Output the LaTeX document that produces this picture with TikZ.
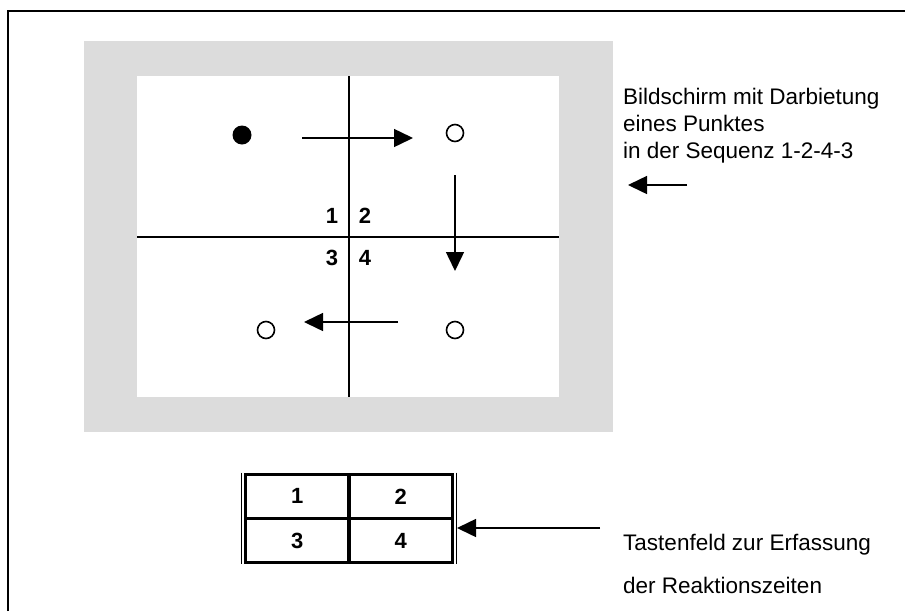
\documentclass[tikz,border=0pt]{standalone}
\usepackage{fontspec}
\setmainfont{Liberation Sans}
\usetikzlibrary{arrows.meta}
\definecolor{screengray}{RGB}{220,220,220}
\tikzset{
  arr/.style={line width=1.5pt,-{Triangle[length=19pt,width=18pt]}},
  fulldot/.style={circle,fill=black,minimum size=19pt,inner sep=0pt},
  opendot/.style={circle,draw=black,line width=1.6pt,minimum size=17pt,inner sep=0pt},
  quad/.style={font=\fontsize{22}{22}\selectfont\bfseries,inner sep=0pt},
  keycell/.style={rectangle,draw=black,line width=3.4pt,minimum width=103.5pt,minimum height=44.2pt,inner sep=0pt,outer sep=0pt,font=\fontsize{22}{22}\selectfont\bfseries},
  label/.style={font=\fontsize{22.5}{27}\selectfont,align=left,inner sep=0pt}
}
\begin{document}
\begin{tikzpicture}[x=1pt,y=-1pt]
\useasboundingbox (0,0) rectangle (905,611);
% outer frame
\draw[line width=2pt] (8,611) -- (8,11) -- (905,11);
% screen
\fill[screengray] (84,41) rectangle (613,432);
\fill[white] (137,76) rectangle (559,397);
\node[inner sep=0pt,minimum width=422pt,minimum height=321pt] (screen) at (348,236.5) {};
\draw[line width=2pt] (349,76) -- (349,397);
\draw[line width=2pt] (137,237) -- (559,237);
\node[quad] (q1) at (332,216) {1};
\node[quad] (q2) at (365,216) {2};
\node[quad] (q3) at (332,258) {3};
\node[quad] (q4) at (365,258) {4};
% dots
\node[fulldot] (d1) at (242,135) {};
\node[opendot] (d2) at (455,133) {};
\node[opendot] (d4) at (455,330) {};
\node[opendot] (d3) at (266,330) {};
% sequence arrows
\coordinate (a1s) at (302,138); \coordinate (a1e) at (413,138);
\coordinate (a2s) at (455,175); \coordinate (a2e) at (455,271);
\coordinate (a3s) at (398,322); \coordinate (a3e) at (304,322);
\draw[arr] (a1s) -- (a1e);
\draw[arr] (a2s) -- (a2e);
\draw[arr] (a3s) -- (a3e);
% screen label
\node[label,anchor=base west] (lab1) at (623,158) {Bildschirm mit Darbietung\\eines Punktes\\in der Sequenz 1-2-4-3};
\coordinate (a4s) at (687,185); \coordinate (a4e) at (628,185);
\draw[arr] (a4s) -- (a4e);
% keypad
\node[keycell,anchor=north west] (k1) at (245.5,474.3) {1};
\node[keycell,anchor=north west] (k2) at (k1.north east) {2};
\node[keycell,anchor=north west] (k3) at (k1.south west) {3};
\node[keycell,anchor=north west] (k4) at (k3.north east) {4};
\draw[line width=1.6pt] ([xshift=-4pt,yshift=1.7pt]k1.north west) -- ([xshift=-4pt,yshift=-1.7pt]k3.south west);
\draw[line width=1.6pt] ([xshift=3.8pt,yshift=1.7pt]k2.north east) -- ([xshift=3.8pt,yshift=-1.7pt]k4.south east);
\coordinate (a5s) at (600,528); \coordinate (a5e) at (457,528);
\draw[arr] (a5s) -- (a5e);
\node[label,anchor=base west] (lab2) at (623,550) {Tastenfeld zur Erfassung};
\node[label,anchor=base west] (lab3) at (623,593) {der Reaktionszeiten};
\end{tikzpicture}
\end{document}
